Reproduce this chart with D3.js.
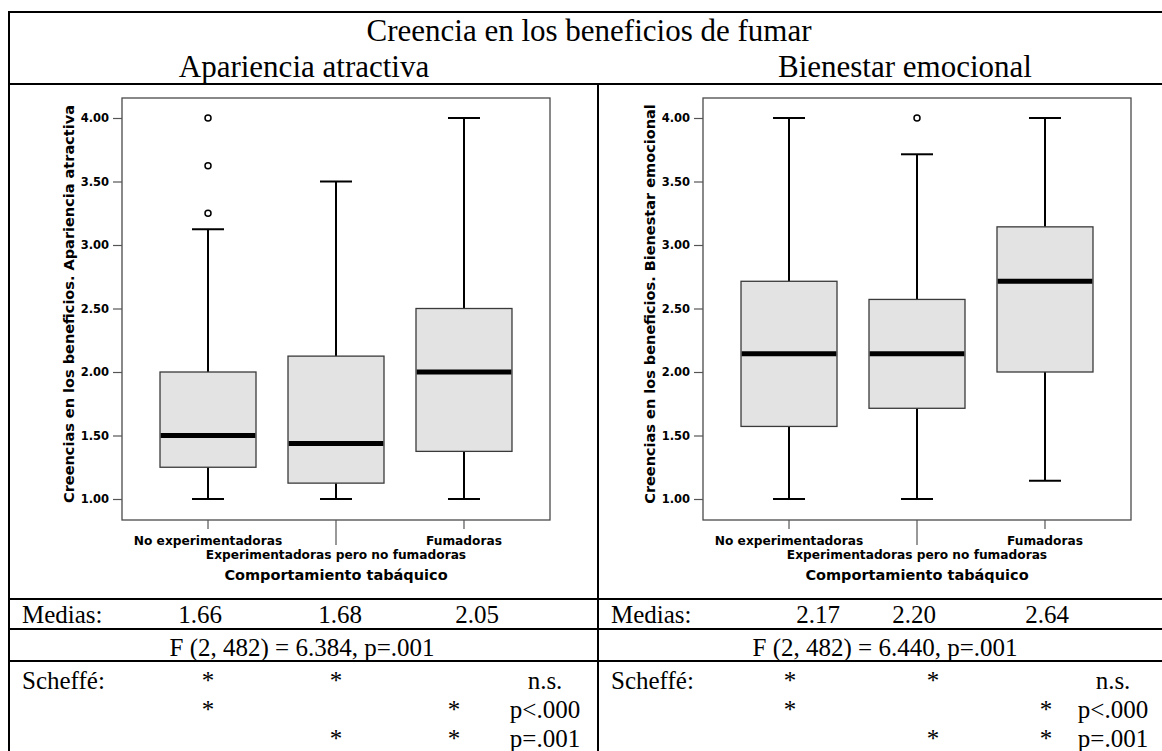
<!DOCTYPE html>
<html>
<head>
<meta charset="utf-8">
<script src="https://cdn.jsdelivr.net/npm/d3@7"></script>
<style>
  html, body { margin: 0; padding: 0; background: #fff; }
  svg { display: block; }
  .serif { font-family: "Liberation Serif", "Times New Roman", serif; fill: #000; }
  .sans { font-family: "DejaVu Sans", Verdana, sans-serif; font-weight: bold; fill: #000; }
</style>
</head>
<body>
<svg id="chart" width="1162" height="751"></svg>
<script>
// ---- data ----
const categories = ["No experimentadoras", "Experimentadoras pero no fumadoras", "Fumadoras"];
const yTicks = [1.0, 1.5, 2.0, 2.5, 3.0, 3.5, 4.0];

// Apariencia atractiva: box-plot summaries per group
const aparLow = [1.0, 1.0, 1.0];
const aparQ1 = [1.25, 1.125, 1.375];
const aparMedian = [1.5, 1.4375, 2.0];
const aparQ3 = [2.0, 2.125, 2.5];
const aparHigh = [3.125, 3.5, 4.0];
const aparOutliers = [[3.25, 3.625, 4.0], [], []];

// Bienestar emocional: box-plot summaries per group
const bienLow = [1.0, 1.0, 1.1429];
const bienQ1 = [1.5714, 1.7143, 2.0];
const bienMedian = [2.1429, 2.1429, 2.7143];
const bienQ3 = [2.7143, 2.5714, 3.1429];
const bienHigh = [4.0, 3.7143, 4.0];
const bienOutliers = [[], [4.0], []];

const mainTitle = "Creencia en los beneficios de fumar";
const panelTitles = ["Apariencia atractiva", "Bienestar emocional"];
const yTitles = ["Creencias en los beneficios. Apariencia atractiva",
                 "Creencias en los beneficios. Bienestar emocional"];
const xTitle = "Comportamiento tabáquico";

const mediasLabel = "Medias:";
const mediasApar = ["1.66", "1.68", "2.05"];
const mediasBien = ["2.17", "2.20", "2.64"];
const anovaApar = "F (2, 482) = 6.384, p=.001";
const anovaBien = "F (2, 482) = 6.440, p=.001";
const scheffeLabel = "Scheffé:";
// Scheffé comparisons: which group columns carry an asterisk, and the result
const scheffeMarks = [[true, true, false], [true, false, true], [false, true, true]];
const scheffeResults = ["n.s.", "p<.000", "p=.001"];

// ---- layout ----
const svg = d3.select("#chart");
const plotTop = 98, plotBottom = 520;
const y = d3.scaleLinear().domain([1, 4]).range([499, 118]);

const panels = [
  { left: 122, right: 550, low: aparLow, q1: aparQ1, med: aparMedian, q3: aparQ3, high: aparHigh,
    outliers: aparOutliers, yTitle: yTitles[0] },
  { left: 703, right: 1131, low: bienLow, q1: bienQ1, med: bienMedian, q3: bienQ3, high: bienHigh,
    outliers: bienOutliers, yTitle: yTitles[1] }
];

// ---- table frame ----
const rule = (x1, y1, x2, y2) => svg.append("line")
  .attr("x1", x1).attr("y1", y1).attr("x2", x2).attr("y2", y2)
  .attr("stroke", "#000").attr("stroke-width", 2);
rule(9, 12, 1162, 12);
rule(9, 11, 9, 751);
rule(9, 84, 1162, 84);
rule(598, 84, 598, 751);
rule(9, 599, 1162, 599);
rule(9, 629, 1162, 629);
rule(9, 661, 1162, 661);

// ---- headings ----
const headFont = "31px";
svg.append("text").attr("class", "serif").attr("x", 589).attr("y", 41)
  .attr("text-anchor", "middle").style("font-size", headFont).text(mainTitle);
svg.append("text").attr("class", "serif").attr("x", 304).attr("y", 77)
  .attr("text-anchor", "middle").style("font-size", headFont).text(panelTitles[0]);
svg.append("text").attr("class", "serif").attr("x", 778).attr("y", 77)
  .attr("text-anchor", "start").style("font-size", headFont).text(panelTitles[1]);

// ---- box plots ----
panels.forEach(p => {
  const x = d3.scalePoint().domain(categories).range([p.left, p.right]).padding(0.672);
  const step = x.step();
  const boxW = step * 0.75, capW = step * 0.25;
  const g = svg.append("g");

  // plot frame
  g.append("rect")
    .attr("x", p.left).attr("y", plotTop)
    .attr("width", p.right - p.left).attr("height", plotBottom - plotTop)
    .attr("fill", "#fff").attr("stroke", "#4a4a4a").attr("stroke-width", 1.3);

  // y axis
  const yAxis = d3.axisLeft(y).tickValues(yTicks).tickFormat(d3.format(".2f"))
    .tickSize(9).tickPadding(4);
  const ya = g.append("g").attr("transform", `translate(${p.left},0)`).call(yAxis);
  ya.select(".domain").remove();
  ya.selectAll(".tick line").attr("stroke", "#555").attr("stroke-width", 1.2);
  ya.selectAll(".tick text").attr("fill", "#000").style("font-size", "11.5px")
    .style("font-family", '"DejaVu Sans", Verdana, sans-serif').style("font-weight", "bold");

  g.append("text").attr("class", "sans")
    .attr("transform", `translate(${p.left - 48},${(plotTop + plotBottom) / 2 - 5}) rotate(-90)`)
    .attr("text-anchor", "middle").style("font-size", "14.5px")
    .text(p.yTitle);

  // x ticks and staggered category labels
  categories.forEach((c, i) => {
    const cx = x(c);
    const long = i === 1;
    g.append("line").attr("x1", cx).attr("x2", cx)
      .attr("y1", plotBottom).attr("y2", plotBottom + (long ? 25 : 9))
      .attr("stroke", "#555").attr("stroke-width", 1.2);
    g.append("text").attr("class", "sans").attr("x", cx).attr("y", long ? 559 : 545)
      .attr("text-anchor", "middle").style("font-size", "12.2px").text(c);
  });
  g.append("text").attr("class", "sans").attr("x", (p.left + p.right) / 2).attr("y", 580)
    .attr("text-anchor", "middle").style("font-size", "14.5px").text(xTitle);

  // boxes
  categories.forEach((c, i) => {
    const cx = x(c);
    const whisker = (a, b) => g.append("line").attr("x1", cx).attr("x2", cx)
      .attr("y1", y(a)).attr("y2", y(b)).attr("stroke", "#000").attr("stroke-width", 2);
    whisker(p.q3[i], p.high[i]);
    whisker(p.q1[i], p.low[i]);
    [p.high[i], p.low[i]].forEach(v => {
      g.append("line").attr("x1", cx - capW / 2).attr("x2", cx + capW / 2)
        .attr("y1", y(v)).attr("y2", y(v)).attr("stroke", "#000").attr("stroke-width", 2);
    });
    g.append("rect").attr("x", cx - boxW / 2).attr("y", y(p.q3[i]))
      .attr("width", boxW).attr("height", y(p.q1[i]) - y(p.q3[i]))
      .attr("fill", "#e3e3e3").attr("stroke", "#3a3a3a").attr("stroke-width", 1.3);
    g.append("line").attr("x1", cx - boxW / 2 + 0.7).attr("x2", cx + boxW / 2 - 0.7)
      .attr("y1", y(p.med[i])).attr("y2", y(p.med[i]))
      .attr("stroke", "#000").attr("stroke-width", 5);
    g.selectAll(null).data(p.outliers[i]).enter().append("circle")
      .attr("cx", cx).attr("cy", d => y(d)).attr("r", 3)
      .attr("fill", "#fff").attr("stroke", "#000").attr("stroke-width", 1.5);
  });
});

// ---- statistics table ----
const tables = [
  { labelX: 22, means: mediasApar, meanX: [200, 340, 477], anova: anovaApar, anovaX: 302,
    starX: [208, 336, 454], resX: 545 },
  { labelX: 611, means: mediasBien, meanX: [818, 914, 1047], anova: anovaBien, anovaX: 885,
    starX: [790, 933, 1046], resX: 1113 }
];
const tFont = "25px";
const rowY = [689, 718, 747];
tables.forEach(t => {
  svg.append("text").attr("class", "serif").attr("x", t.labelX).attr("y", 623)
    .style("font-size", tFont).text(mediasLabel);
  svg.selectAll(null).data(t.means).enter().append("text").attr("class", "serif")
    .attr("x", (d, i) => t.meanX[i]).attr("y", 623).attr("text-anchor", "middle")
    .style("font-size", tFont).text(d => d);
  svg.append("text").attr("class", "serif").attr("x", t.anovaX).attr("y", 656)
    .attr("text-anchor", "middle").style("font-size", tFont).text(t.anova);
  svg.append("text").attr("class", "serif").attr("x", t.labelX).attr("y", rowY[0])
    .style("font-size", tFont).text(scheffeLabel);
  scheffeMarks.forEach((row, r) => {
    row.forEach((on, c) => {
      if (!on) return;
      svg.append("text").attr("class", "serif").attr("x", t.starX[c]).attr("y", rowY[r])
        .attr("text-anchor", "middle").style("font-size", tFont).text("*");
    });
    svg.append("text").attr("class", "serif").attr("x", t.resX).attr("y", rowY[r])
      .attr("text-anchor", "middle").style("font-size", tFont).text(scheffeResults[r]);
  });
});
</script>
</body>
</html>
